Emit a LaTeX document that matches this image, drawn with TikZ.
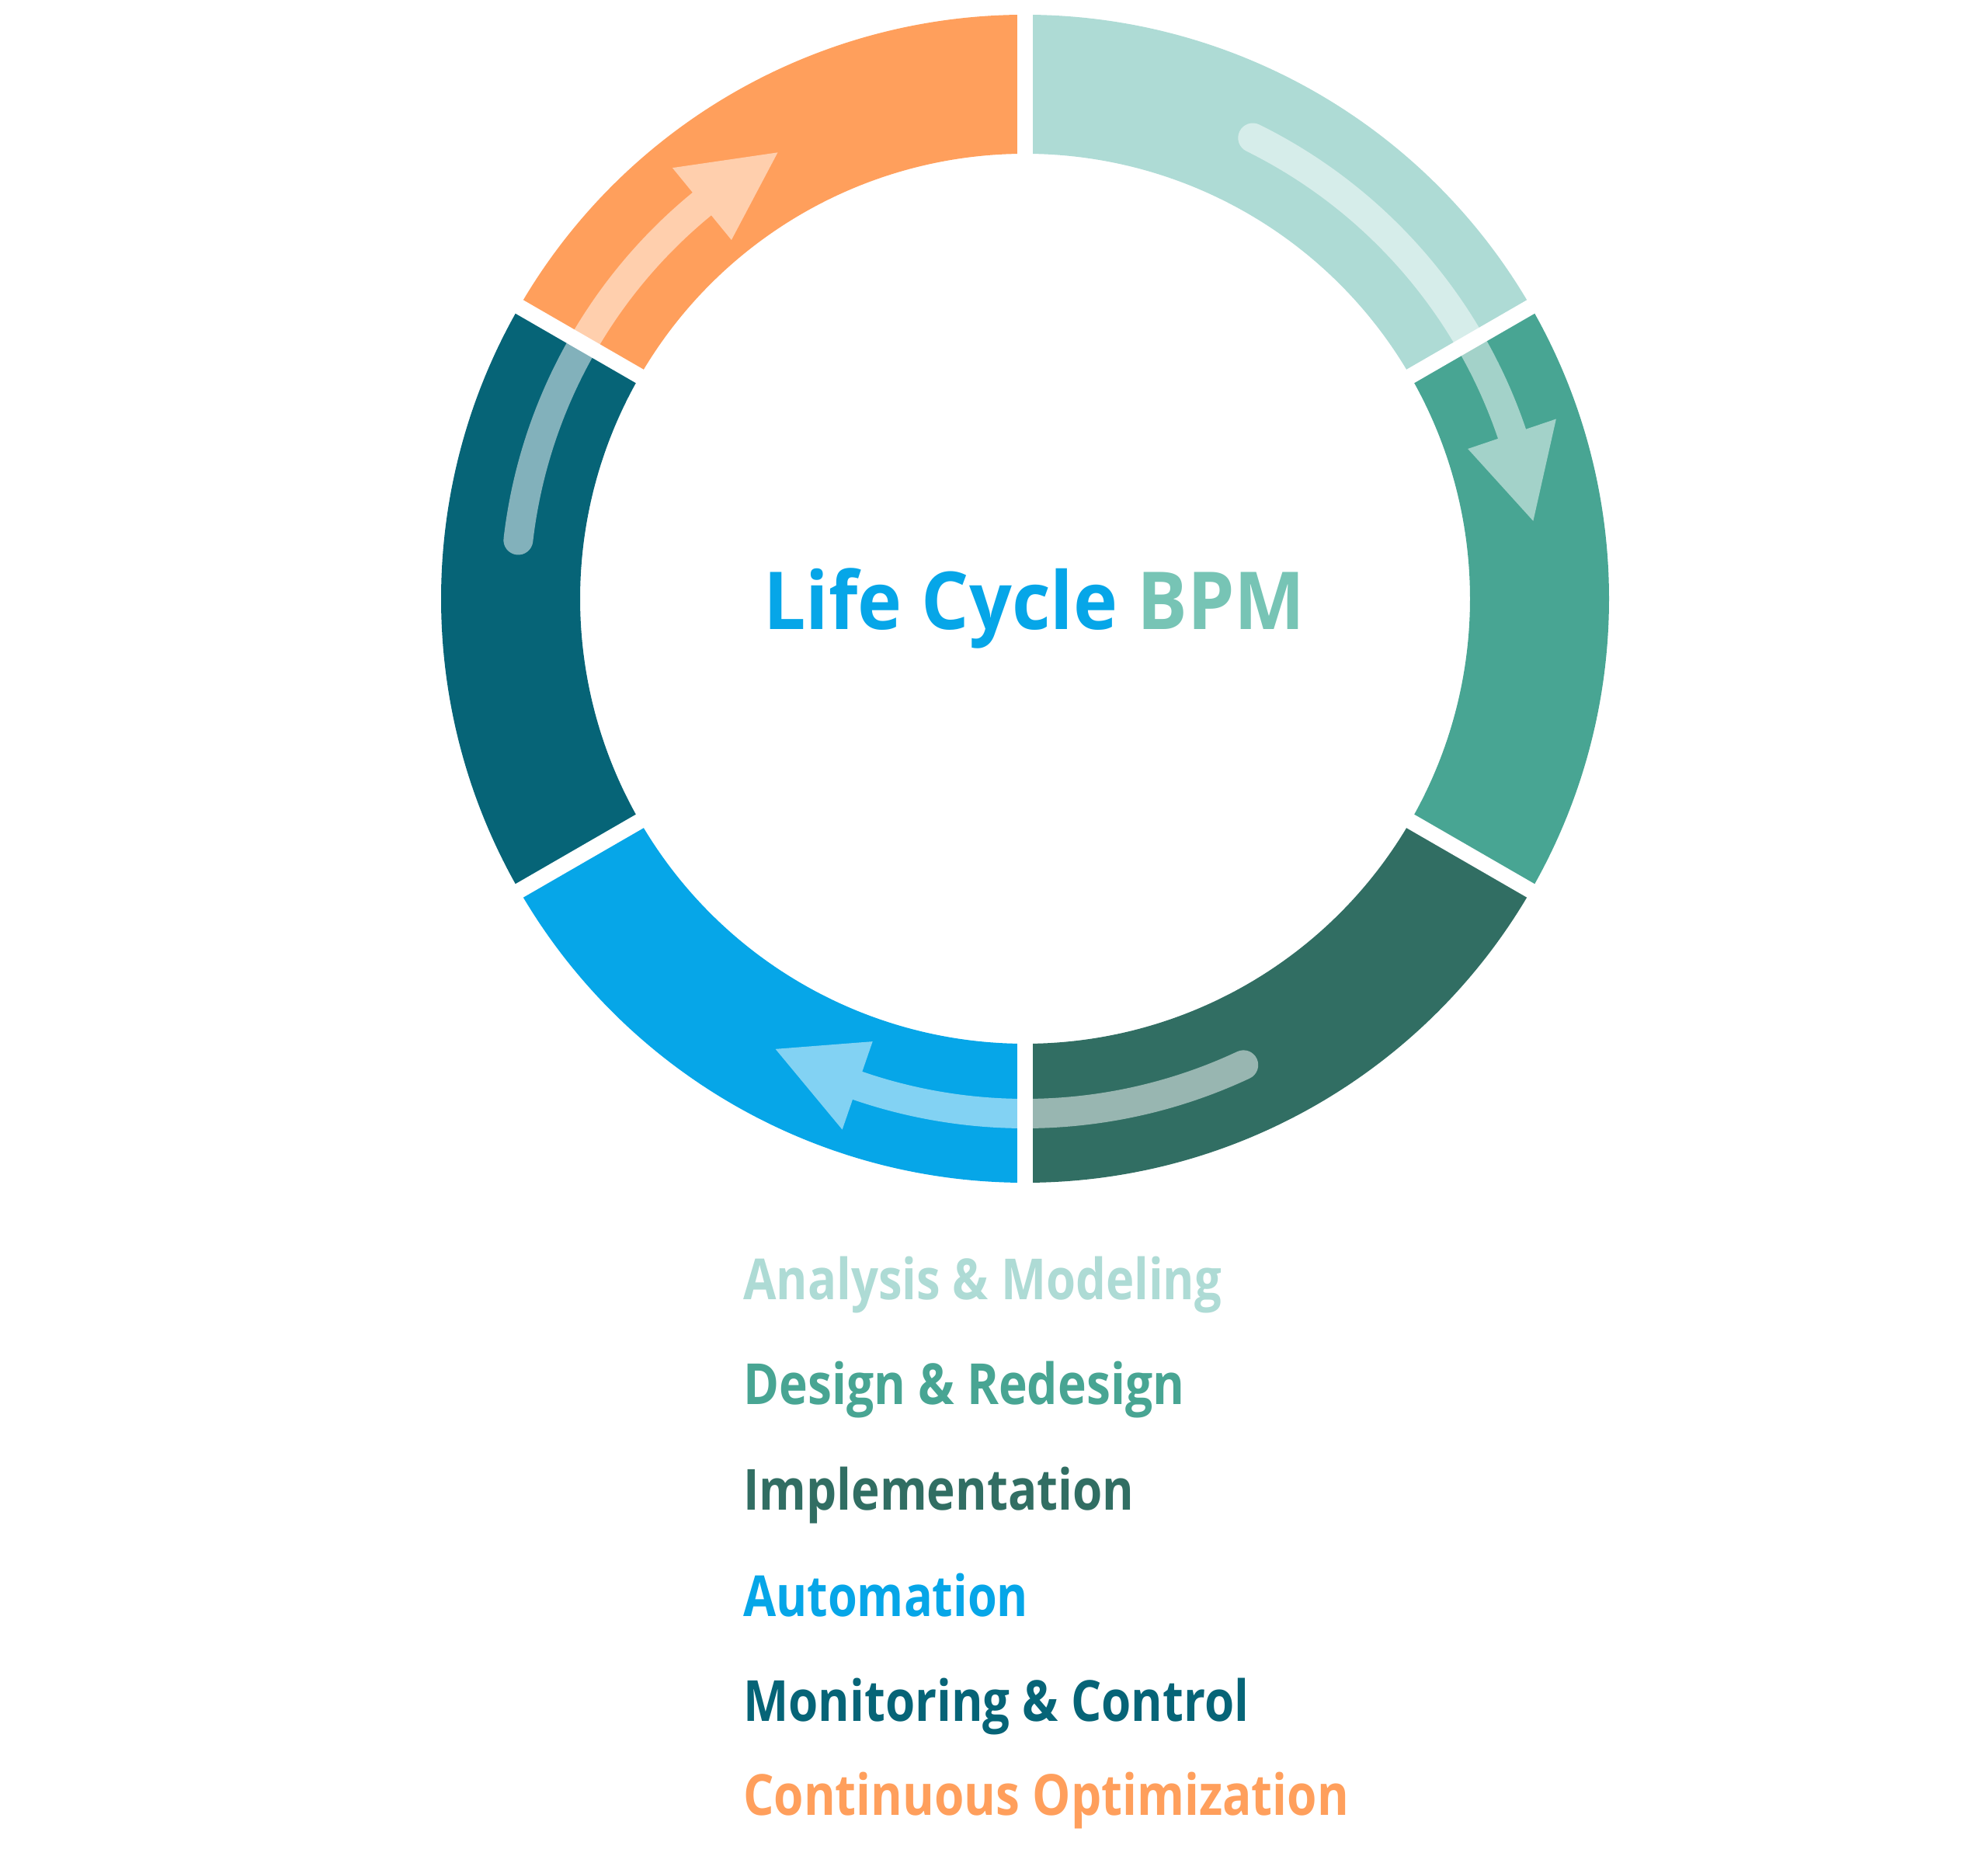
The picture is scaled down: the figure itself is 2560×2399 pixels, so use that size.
\documentclass[tikz,border=0pt]{standalone}
\usepackage{fontspec}
\usepackage{graphicx}
\setmainfont{Open Sans}
\usetikzlibrary{calc}
\definecolor{cAna}{HTML}{AEDBD5}
\definecolor{cDes}{HTML}{48A593}
\definecolor{cImp}{HTML}{316E63}
\definecolor{cAut}{HTML}{06A6E8}
\definecolor{cMon}{HTML}{066477}
\definecolor{cOpt}{HTML}{FF9F5C}
\definecolor{cBpm}{HTML}{77C4B5}
\newcommand\ringseg[3]{\fill[#3] ($(C)+(#1:752)$) arc[start angle=#1,end angle=#2,radius=752] -- ($(C)+(#2:573)$) arc[start angle=#2,end angle=#1,radius=573] -- cycle;}
\newcommand\flowarrow[4]{\fill[flow] ($(C)+(#1:{#4+19})$) arc[start angle=#1,end angle=#2,radius={#4+19}] -- ($(C)+(#2:{#4+60})$) -- ($(C)+(#3:{#4})$) -- ($(C)+(#2:{#4-60})$) -- ($(C)+(#2:{#4-19})$) arc[start angle=#2,end angle=#1,radius={#4-19}] arc[start angle={#1+180},end angle=#1,radius=19] -- cycle;}
\begin{document}
\begin{tikzpicture}[x=1pt,y=1pt,
  gapline/.style={white,line width=20pt},
  flow/.style={fill=white,fill opacity=0.5},
  legend/.style={anchor=base west,inner sep=0pt,font=\fontsize{73}{80}\selectfont\bfseries},
]
\useasboundingbox (0,0) rectangle (2560,2399);
\coordinate (C) at (1320,1628);
% ring segments
\ringseg{30}{90}{cAna}
\ringseg{-30}{30}{cDes}
\ringseg{-90}{-30}{cImp}
\ringseg{-150}{-90}{cAut}
\ringseg{150}{210}{cMon}
\ringseg{90}{150}{cOpt}
% gaps
\foreach \a in {90,30,-30,-90,-150,150}
  \draw[gapline] ($(C)+(\a:550)$) -- ($(C)+(\a:775)$);
% flow arrows
\flowarrow{63.7}{18.7}{8.7}{662}
\flowarrow{-64.9}{-109}{-119}{663}
\flowarrow{173.4}{129.3}{119}{657}
% title
\node[anchor=base,inner sep=0pt] (title) at (1332,1588)
  {\resizebox{697pt}{\height}{\fontsize{103}{110}\selectfont\bfseries\textcolor{cAut}{Life Cycle} \textcolor{cBpm}{BPM}}};
% legend
\node[legend,text=cAna] (l1) at (957,725.5) {\resizebox{616pt}{\height}{Analysis \& Modeling}};
\node[legend,text=cDes] (l2) at (957,590) {\resizebox{568pt}{\height}{Design \& Redesign}};
\node[legend,text=cImp] (l3) at (957,454.4) {\resizebox{503pt}{\height}{Implementation}};
\node[legend,text=cAut] (l4) at (957,317.3) {\resizebox{367pt}{\height}{Automation}};
\node[legend,text=cMon] (l5) at (957,182) {\resizebox{651pt}{\height}{Monitoring \& Control}};
\node[legend,text=cOpt] (l6) at (957,61) {\resizebox{780pt}{\height}{Continuous Optimization}};
\end{tikzpicture}
\end{document}
